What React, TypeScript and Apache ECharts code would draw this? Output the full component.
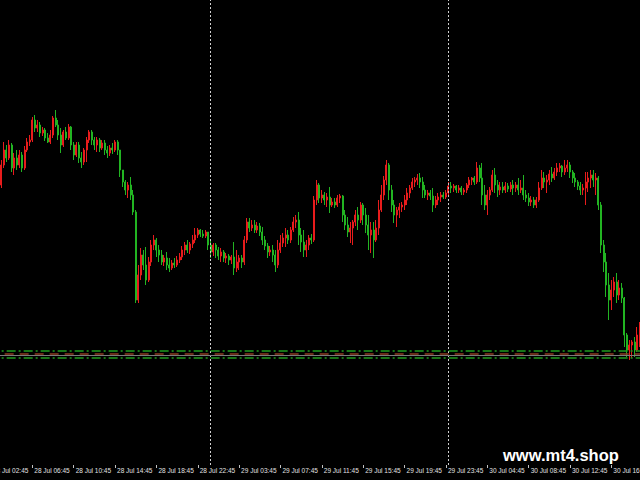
import React, { useEffect, useRef } from "react";
import * as echarts from "echarts";

// OHLC values (price in points), one entry per visible 15-minute bar
const openV = [
  315,335,350,342,355,332,342,335,345,332,
  350,358,360,380,372,375,367,370,362,358,
  365,382,375,365,355,368,362,373,355,345,
  355,342,338,350,360,368,360,355,360,352,
  357,350,347,352,350,358,350,330,318,310,
  315,305,288,200,225,245,235,220,238,255,
  260,250,245,238,242,235,232,237,235,240,
  243,250,255,250,256,260,265,270,266,264,
  268,255,248,255,250,244,248,242,244,240,
  243,232,238,242,238,260,278,272,275,270,
  274,268,260,254,248,250,245,235,250,257,
  262,265,260,270,278,280,265,258,250,255,
  262,260,300,315,302,305,300,303,295,298,
  295,302,304,285,275,268,272,278,285,280,
  295,285,275,265,270,260,272,290,305,320,
  335,310,295,285,290,293,295,300,307,312,
  318,320,322,318,310,305,307,304,295,300,
  303,305,303,307,314,312,314,310,312,308,
  310,315,320,322,318,332,322,305,295,305,
  310,325,315,310,313,310,314,311,315,312,
  315,310,312,305,302,298,300,295,300,312,
  322,318,320,326,322,328,332,334,328,332,
  335,328,322,318,314,310,312,318,322,325,
  320,322,295,255,238,215,200,210,218,205,
  212,202,165,150,155,158,150,165,
];
const closeV = [
  335,350,342,355,332,342,335,345,332,350,
  358,360,380,372,375,367,370,362,358,365,
  382,375,365,355,368,362,373,355,345,355,
  342,338,350,360,368,360,355,360,352,357,
  350,347,352,350,358,350,330,318,310,315,
  305,288,200,225,245,235,220,238,255,260,
  250,245,238,242,235,232,237,235,240,243,
  250,255,250,256,260,265,270,266,264,268,
  255,248,255,250,244,248,242,244,240,243,
  232,238,242,238,260,278,272,275,270,274,
  268,260,254,248,250,245,235,250,257,262,
  265,260,270,278,280,265,258,250,255,262,
  260,300,315,302,305,300,303,295,298,295,
  302,304,285,275,268,272,278,285,280,295,
  285,275,265,270,260,272,290,305,320,335,
  310,295,285,290,293,295,300,307,312,318,
  320,322,318,310,305,307,304,295,300,303,
  305,303,307,314,312,314,310,312,308,310,
  315,320,322,318,332,322,305,295,305,310,
  325,315,310,313,310,314,311,315,312,315,
  310,312,305,302,298,300,295,300,312,322,
  318,320,326,322,328,332,334,328,332,335,
  328,322,318,314,310,312,318,322,325,320,
  322,295,255,238,215,200,210,218,205,212,
  202,165,150,155,158,150,165,172,
];
const lowV = [
  312,332,338,340,328,325,330,332,328,330,
  348,354,358,368,368,363,364,359,357,356,
  362,373,360,347,353,360,360,350,340,343,
  337,332,335,338,357,355,350,348,348,350,
  345,342,344,346,348,345,323,313,305,302,
  300,285,197,197,220,230,215,218,234,250,
  243,238,235,234,230,228,230,232,233,237,
  240,245,247,246,252,257,262,263,262,262,
  250,242,244,242,240,238,238,237,235,236,
  225,228,230,232,235,257,268,269,267,267,
  264,255,250,242,244,238,228,232,247,253,
  253,256,257,268,272,255,248,243,243,250,
  256,258,295,297,297,295,293,287,293,292,
  293,297,278,270,263,257,255,274,270,277,
  275,267,250,247,242,258,265,288,300,315,
  300,288,277,273,282,288,290,295,302,310,
  313,315,312,302,302,300,300,288,292,295,
  298,301,301,305,307,308,307,307,305,305,
  307,312,315,315,316,318,295,290,285,300,
  308,307,303,305,307,307,308,308,305,308,
  305,307,300,298,294,294,292,292,298,310,
  312,307,315,318,320,324,328,323,325,328,
  322,317,313,310,305,305,295,308,312,313,
  305,290,247,228,203,180,190,203,197,200,
  197,153,143,140,142,143,148,153,
];
const highV = [
  340,358,355,360,357,347,350,350,348,354,
  362,365,383,385,380,378,373,372,367,370,
  384,390,380,372,370,373,376,374,358,358,
  358,348,352,363,370,370,363,363,362,360,
  360,354,355,357,360,360,350,330,320,318,
  323,310,290,235,252,250,253,243,260,265,
  262,255,250,245,248,242,240,242,244,247,
  254,258,260,258,265,272,272,271,270,270,
  268,260,257,257,253,252,250,247,246,245,
  258,250,245,245,264,282,282,280,280,278,
  277,273,264,257,254,255,250,260,265,267,
  272,270,273,283,285,288,272,270,260,265,
  266,304,320,317,310,308,307,313,302,302,
  305,306,305,290,283,278,280,290,293,298,
  297,292,285,278,278,280,300,315,324,340,
  337,315,300,293,297,298,305,312,315,322,
  323,326,327,323,315,310,310,312,304,307,
  308,308,310,318,318,316,315,315,314,312,
  317,323,323,324,338,335,337,315,310,313,
  330,332,320,318,318,318,317,318,320,318,
  322,320,325,310,307,304,303,303,318,330,
  328,325,330,333,332,337,337,335,340,340,
  338,330,327,320,318,316,328,328,330,330,
  327,324,298,260,247,227,220,223,227,220,
  217,203,167,160,160,163,173,178,
];

// Trading sessions (15-minute bars); the first 4 bars lie off-screen on the left
const sessions = [
  { day: "28 Jul", from: "02:45", to: "23:45" },
  { day: "29 Jul", from: "00:00", to: "00:00" },
  { day: "29 Jul", from: "01:15", to: "23:45" },
  { day: "30 Jul", from: "00:00", to: "00:00" },
  { day: "30 Jul", from: "01:15", to: "19:30" },
];
const hiddenLeadBars = 4;
const daySeparators = ["29 Jul 00:00", "30 Jul 00:00"];
const greenLevels = [149.3, 142.7];
const greyLevel = 145;
const brownLevel = 146.5;
const watermark = "www.mt4.shop";

const toMin = (s: string) => {
  const [h, m] = s.split(":").map(Number);
  return h * 60 + m;
};
const pad = (n: number) => (n < 10 ? "0" + n : "" + n);

function buildCategories(): string[] {
  const out: string[] = [];
  for (const s of sessions) {
    for (let t = toMin(s.from); t <= toMin(s.to); t += 15) {
      out.push(`${s.day} ${pad(Math.floor(t / 60))}:${pad(t % 60)}`);
    }
  }
  return out;
}

const RED = "#e81c1c";
const GREEN = "#22b422";

export default function App() {
  const ref = useRef<HTMLDivElement>(null);
  useEffect(() => {
    if (!ref.current) return;
    const chart = echarts.init(ref.current, null, { renderer: "svg" });
    const categories = buildCategories();
    const n = categories.length;
    const step = 2.585;
    const left = -hiddenLeadBars * step;
    const width = n * step;

    const data: any[] = [];
    for (let i = 0; i < hiddenLeadBars; i++) data.push(["-", "-", "-", "-"]);
    for (let i = 0; i < openV.length; i++) {
      data.push([openV[i], closeV[i], lowV[i], highV[i]]);
    }

    const markData: any[] = [
      ...daySeparators.map((d) => ({
        xAxis: d,
        lineStyle: { color: "#cfcfcf", type: [2, 2], width: 1 },
      })),
      { yAxis: greyLevel, lineStyle: { color: "#7c7c7c", type: "solid", width: 1 } },
      { yAxis: brownLevel, lineStyle: { color: "#8a3c22", type: [9, 6], width: 1.5 } },
      ...greenLevels.map((v) => ({
        yAxis: v,
        lineStyle: { color: "#1f9a1f", type: [9, 3, 2, 3], width: 1.5 },
      })),
    ];

    chart.setOption({
      animation: false,
      backgroundColor: "#000000",
      textStyle: { fontFamily: "Liberation Sans, Arial, sans-serif" },
      grid: {
        left,
        width,
        top: 0,
        bottom: 15,
        containLabel: false,
        outerBoundsMode: "none",
      },
      xAxis: {
        type: "category",
        data: categories,
        boundaryGap: true,
        axisLine: { show: false },
        axisTick: {
          show: true,
          alignWithLabel: true,
          interval: 15,
          length: 3,
          lineStyle: { color: "#c0c0c0", width: 1 },
        },
        axisLabel: {
          interval: 15,
          align: "left",
          color: "#e0e0e0",
          fontSize: 6.5,
          margin: 2,
          padding: [0, 0, 0, 2],
          fontFamily: "Liberation Sans",
          hideOverlap: false,
        },
        splitLine: { show: false },
      },
      yAxis: { type: "value", min: 35, max: 500, show: false, splitLine: { show: false } },
      graphic: [
        {
          type: "text",
          left: 503,
          top: 446,
          style: {
            text: watermark,
            fill: "#ffffff",
            font: 'bold 16.5px "Liberation Sans", Arial, sans-serif',
          },
        },
      ],
      series: [
        {
          type: "candlestick",
          data,
          barWidth: 1.5,
          itemStyle: {
            color: RED,
            color0: GREEN,
            borderColor: RED,
            borderColor0: GREEN,
            borderWidth: 1,
          },
          markLine: {
            silent: true,
            symbol: ["none", "none"],
            label: { show: false },
            animation: false,
            data: markData,
          },
        },
      ],
    });
    return () => chart.dispose();
  }, []);
  return (
    <div
      ref={ref}
      style={{ position: "fixed", left: 0, top: 0, width: 640, height: 480, background: "#000" }}
    />
  );
}
